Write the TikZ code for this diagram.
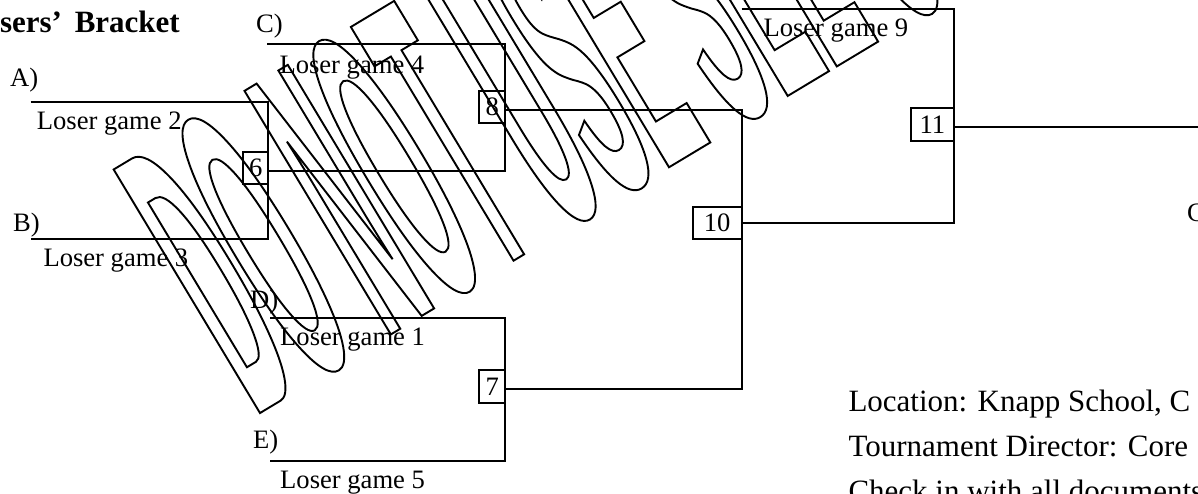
\documentclass[tikz,border=0pt]{standalone}
\usepackage{fontspec}
\setmainfont{Liberation Serif}
\newfontfamily\wmfont{Liberation Sans Bold}[FakeStretch=0.208]
\begin{document}
\begin{tikzpicture}[x=1pt,y=-1pt,
  ln/.style={line width=2pt},
  gbox/.style={draw,line width=2pt,inner sep=0pt,font=\fontsize{26.6}{30}\selectfont},
  lbl/.style={anchor=base west,inner sep=0pt,font=\fontsize{26.6}{30}\selectfont},
  big/.style={anchor=base west,inner sep=0pt,font=\fontsize{31}{36}\selectfont},
  wm/.style={anchor=base west,inner sep=0pt,rotate=31}]
\useasboundingbox (0,0) rectangle (1198,494);
\clip (0,0) rectangle (1198,494);
% watermark (outlined text)
\node[wm] (wmark) at (254.9,416.1) {\special{pdf:literal 1 Tr 1.9 w}\wmfont\fontsize{413}{413}\selectfont DO NOT USE SEE O\special{pdf:literal 0 Tr}};
% title
\node[anchor=base east,inner sep=0pt,font=\fontsize{31}{36}\selectfont\bfseries] (title) at (180,32.3) {sers’\kern5pt\ Bracket};
% labels
\node[lbl] (lA) at (10,87) {A)};
\node[lbl] (tA) at (36.7,130) {Loser game 2};
\node[lbl] (lB) at (13,232) {B)};
\node[lbl] (tB) at (43.3,266.7) {Loser game 3};
\node[lbl] (lC) at (256,33) {C)};
\node[lbl] (tC) at (279.3,73.3) {Loser game 4};
\node[lbl] (lD) at (250,308) {D)};
\node[lbl] (tD) at (280,345) {Loser game 1};
\node[lbl] (lE) at (253,448) {E)};
\node[lbl] (tE) at (280,488.3) {Loser game 5};
\node[lbl] (tF) at (763.3,36.7) {Loser game 9};
\node[lbl] (champ) at (1187,222) {C};
\node[big] (loc) at (848.3,411.7) {Location: Knapp School, C};
\node[big] (dir) at (848.3,456.7) {Tournament Director: Core};
\node[big] (chk) at (848.3,501.7) {Check in with all documents};
% game boxes
\node[gbox,minimum width=25pt,minimum height=32.3pt] (g6) at (255.8,167.9) {6};
\node[gbox,minimum width=25.6pt,minimum height=32.6pt] (g8) at (492.2,107) {8};
\node[gbox,minimum width=25.6pt,minimum height=32.7pt] (g7) at (492.2,386.3) {7};
\node[gbox,minimum width=49pt,minimum height=32.6pt] (g10) at (717.2,223) {10};
\node[gbox,minimum width=43.3pt,minimum height=32.7pt] (g11) at (932.3,124.7) {11};
% coordinates
\coordinate (A0) at (30.7,101.7); \coordinate (A1) at (268.3,101.7);
\coordinate (B0) at (30.7,239.3); \coordinate (B1) at (268.3,239.3);
\coordinate (o6) at (268.3,171); \coordinate (h6) at (505,171);
\coordinate (C0) at (267.3,44.3); \coordinate (C1) at (505,44.3);
\coordinate (o8) at (505,110); \coordinate (t10) at (741.7,110);
\coordinate (D0) at (270,317.7); \coordinate (D1) at (505,317.7);
\coordinate (E0) at (270,460.7); \coordinate (E1) at (505,460.7);
\coordinate (o7) at (505,389.3); \coordinate (b10) at (741.7,389.3);
\coordinate (o10) at (741.7,222.7); \coordinate (b11) at (954,222.7);
\coordinate (F0) at (741.7,9.3); \coordinate (F1) at (954,9.3);
\coordinate (o11) at (954,126.7); \coordinate (fin) at (1198,126.7);
% bracket lines
\draw[ln] (A0) -- (A1) -- (B1) -- (B0);
\draw[ln] (C0) -- (C1) -- (h6) -- (o6);
\draw[ln] (D0) -- (D1) -- (E1) -- (E0);
\draw[ln] (o8) -- (t10) -- (b10) -- (o7);
\draw[ln] (F0) -- (F1) -- (b11) -- (o10);
\draw[ln] (o11) -- (fin);
\end{tikzpicture}
\end{document}
